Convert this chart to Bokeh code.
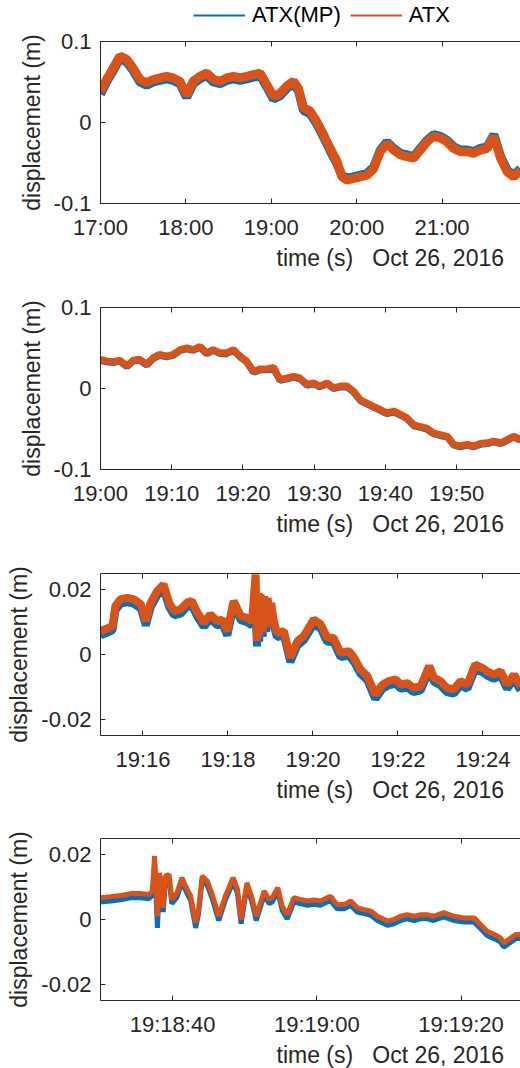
import numpy as np
import pandas as pd
from bokeh.plotting import figure
from bokeh.layouts import column
from bokeh.models import (FixedTicker, DatetimeTickFormatter, DatetimeAxis, Title,
                          Legend, LegendItem, Range1d)
from bokeh.embed import file_html
from bokeh.resources import INLINE

DATE = "2016-10-26"
DATE_TEXT = "Oct 26, 2016"
XLABEL = "time (s)"
YLABEL = "displacement (m)"
BLUE = "#0072BD"
ORANGE = "#D95319"
AX = "#262626"
FONT = "Liberation Sans"

# ---------------- panel 1 : minutes after 17:00 ----------------
p1_start = "17:00:00"
p1_min = [0, 4.2, 8.9, 13.6, 18.3, 23.0, 27.7, 32.4, 37.1, 41.8, 46.5, 51.1, 55.8, 60.5, 65.2,
          69.9, 74.6, 79.3, 84.0, 88.7, 93.4, 98.1, 102.8, 107.4, 112.1, 116.8, 121.5, 126.2,
          130.9, 135.6, 139.1, 142.6, 147.3, 152.0, 156.7, 161.4, 166.1, 169.6, 173.1, 177.8,
          182.5, 187.2, 191.9, 196.6, 201.3, 206.0, 210.7, 215.4, 220.1, 224.7, 229.4, 234.1,
          238.8, 243.5, 248.2, 252.9, 257.6, 262.3, 267.0, 271.7, 276.4, 281.1, 285.8, 290.4, 295.1]
p1_atx = [0.038, 0.053, 0.067, 0.082, 0.078, 0.067, 0.053, 0.049, 0.053, 0.055, 0.057, 0.055, 0.051,
          0.034, 0.051, 0.057, 0.061, 0.053, 0.051, 0.055, 0.057, 0.055, 0.057, 0.059, 0.061, 0.047,
          0.032, 0.036, 0.045, 0.051, 0.042, 0.018, 0.014, 0.001, -0.015, -0.032, -0.048, -0.067,
          -0.071, -0.069, -0.067, -0.065, -0.057, -0.036, -0.026, -0.034, -0.040, -0.042, -0.044,
          -0.034, -0.024, -0.017, -0.019, -0.024, -0.032, -0.036, -0.036, -0.038, -0.034, -0.032,
          -0.017, -0.044, -0.061, -0.067, -0.059]
p1_mp = [0.035, 0.050, 0.064, 0.079, 0.075, 0.064, 0.050, 0.046, 0.050, 0.052, 0.054, 0.052, 0.048,
         0.031, 0.048, 0.054, 0.058, 0.050, 0.048, 0.052, 0.054, 0.052, 0.054, 0.056, 0.058, 0.044,
         0.029, 0.033, 0.042, 0.048, 0.039, 0.015, 0.011, -0.002, -0.018, -0.035, -0.051, -0.065,
         -0.069, -0.067, -0.065, -0.063, -0.055, -0.034, -0.024, -0.032, -0.038, -0.040, -0.042,
         -0.032, -0.022, -0.015, -0.017, -0.022, -0.030, -0.034, -0.034, -0.036, -0.032, -0.030,
         -0.015, -0.042, -0.059, -0.065, -0.057]
p1_xticks = ["17:00", "18:00", "19:00", "20:00", "21:00"]
p1_yticks = [-0.1, 0, 0.1]
p1_ylabels = ["-0.1", "0", "0.1"]

# ---------------- panel 2 : minutes after 19:00 ----------------
p2_start = "19:00:00"
p2_min = [0, 0.8, 1.8, 2.7, 3.7, 4.6, 5.5, 6.5, 7.4, 8.3, 9.3, 10.2, 11.2, 12.1, 13.0, 14.0, 14.9,
          15.8, 16.8, 17.7, 18.7, 19.6, 20.5, 21.5, 22.4, 23.3, 24.3, 25.2, 26.2, 27.1, 28.0, 29.0,
          29.9, 30.8, 31.8, 32.7, 33.7, 34.6, 35.5, 36.5, 37.4, 38.3, 39.3, 40.2, 41.2, 42.1, 43.0,
          44.0, 44.9, 45.8, 46.8, 47.7, 48.7, 49.6, 50.5, 51.5, 52.4, 53.3, 54.3, 55.2, 56.2, 57.1,
          58.0, 59.0]
p2_atx = [0.036, 0.034, 0.033, 0.035, 0.028, 0.035, 0.036, 0.030, 0.038, 0.042, 0.040, 0.042, 0.048,
          0.050, 0.048, 0.052, 0.044, 0.048, 0.044, 0.044, 0.048, 0.040, 0.034, 0.021, 0.024, 0.024,
          0.026, 0.011, 0.013, 0.015, 0.013, 0.005, 0.007, 0.003, 0.007, 0.001, 0.003, 0.003, -0.003,
          -0.014, -0.018, -0.022, -0.026, -0.030, -0.028, -0.032, -0.036, -0.045, -0.047, -0.049,
          -0.055, -0.057, -0.059, -0.069, -0.071, -0.069, -0.071, -0.068, -0.067, -0.065, -0.067,
          -0.063, -0.059, -0.063]
p2_mp = [0.035, 0.033, 0.032, 0.034, 0.027, 0.034, 0.035, 0.029, 0.037, 0.041, 0.039, 0.041, 0.047,
         0.049, 0.047, 0.051, 0.043, 0.047, 0.043, 0.043, 0.047, 0.039, 0.033, 0.020, 0.023, 0.023,
         0.025, 0.010, 0.012, 0.014, 0.012, 0.004, 0.006, 0.002, 0.006, 0.000, 0.002, 0.002, -0.004,
         -0.015, -0.019, -0.023, -0.027, -0.031, -0.029, -0.033, -0.037, -0.046, -0.048, -0.050,
         -0.056, -0.058, -0.060, -0.070, -0.072, -0.070, -0.072, -0.069, -0.068, -0.066, -0.068,
         -0.064, -0.060, -0.064]
p2_xticks = ["19:00", "19:10", "19:20", "19:30", "19:40", "19:50"]
p2_yticks = [-0.1, 0, 0.1]
p2_ylabels = ["-0.1", "0", "0.1"]

# ---------------- panel 3 : seconds after 19:15:00 ----------------
p3_start = "19:15:00"
p3_sec = [0, 9, 17, 21, 28, 38, 47, 57, 64, 71, 80, 89, 97, 104, 113, 122, 129, 137, 146, 155, 165,
          172, 179, 188, 198, 207, 214, 219, 221, 223, 224, 226, 229, 231, 234, 236, 239, 241, 244,
          249, 259, 268, 278, 287, 297, 301, 311, 320, 329, 339, 351, 358, 367, 377, 388, 398, 407,
          417, 424, 433, 442, 452, 464, 471, 480, 489, 499, 508, 518, 529, 539, 546, 555, 565, 574,
          584, 593]
p3_atx = [0.0072, 0.0080, 0.0088, 0.0149, 0.0170, 0.0175, 0.0170, 0.0155, 0.0103, 0.0160, 0.0196,
          0.0216, 0.0160, 0.0134, 0.0139, 0.0160, 0.0165, 0.0129, 0.0098, 0.0124, 0.0103, 0.0108,
          0.0072, 0.0165, 0.0119, 0.0113, 0.0103, 0.0247, 0.0041, 0.0190, 0.0060,
          0.0185, 0.0070, 0.0180, 0.0085, 0.0175, 0.0095, 0.0160, 0.0110,
          0.0067, 0.0072, -0.0010, 0.0041, 0.0057, 0.0093, 0.0108, 0.0093, 0.0052,
          0.0052, 0.0005, 0.0010, -0.0010, -0.0046, -0.0067, -0.0124, -0.0093, -0.0082, -0.0077,
          -0.0093, -0.0088, -0.0103, -0.0098, -0.0036, -0.0072, -0.0082, -0.0103, -0.0108, -0.0082,
          -0.0093, -0.0031, -0.0041, -0.0052, -0.0062, -0.0052, -0.0093, -0.0062, -0.0098]
p3_mp = [0.0059, 0.0067, 0.0075, 0.0136, 0.0157, 0.0162, 0.0157, 0.0142, 0.0090, 0.0147, 0.0183,
         0.0203, 0.0147, 0.0121, 0.0126, 0.0147, 0.0152, 0.0116, 0.0085, 0.0111, 0.0090, 0.0095,
         0.0059, 0.0152, 0.0106, 0.0100, 0.0090, 0.0120, 0.0025, 0.0150, 0.0040,
         0.0150, 0.0055, 0.0150, 0.0070, 0.0155, 0.0082, 0.0145, 0.0097,
         0.0054, 0.0059, -0.0023, 0.0028, 0.0044, 0.0080, 0.0095, 0.0080, 0.0039,
         0.0039, -0.0008, -0.0003, -0.0023, -0.0059, -0.0080, -0.0137, -0.0106, -0.0095, -0.0090,
         -0.0106, -0.0101, -0.0116, -0.0111, -0.0049, -0.0085, -0.0095, -0.0116, -0.0121, -0.0095,
         -0.0106, -0.0044, -0.0054, -0.0065, -0.0075, -0.0065, -0.0106, -0.0075, -0.0111]
p3_xticks = ["19:16", "19:18", "19:20", "19:22", "19:24"]
p3_yticks = [-0.02, 0, 0.02]
p3_ylabels = ["-0.02", "0", "0.02"]

# ---------------- panel 4 : seconds after 19:18:30 ----------------
p4_start = "19:18:30"
p4_sec = [0, 1.4, 2.8, 4.2, 5.5, 6.7, 7.2, 7.5, 7.9, 8.2, 8.7, 9.0, 9.5, 9.9, 10.6, 11.3, 11.8, 12.5,
          13.2, 13.6, 14.1, 14.8, 15.5, 16.4, 17.3, 18.4, 19.0, 19.5, 20.3, 21.0, 21.6, 22.7, 23.4,
          23.8, 24.6, 25.2, 25.9, 26.8, 27.7, 28.7, 29.6, 30.5, 31.9, 32.8, 33.8, 34.7, 35.6, 36.5,
          37.5, 38.4, 39.8, 40.7, 41.6, 42.5, 43.5, 44.4, 45.3, 46.2, 47.6, 49.0, 50.4, 51.8, 52.7,
          53.6, 54.6, 55.5, 55.9, 56.6, 57.6, 58.3]
p4_atx = [0.0067, 0.0070, 0.0074, 0.0080, 0.0080, 0.0077, 0.0088, 0.0196, 0.0010, 0.0144, 0.0036,
          0.0134, 0.0139, 0.0062, 0.0082, 0.0129, 0.0103, 0.0072, -0.0010, 0.0031, 0.0134, 0.0119,
          0.0077, 0.0010, 0.0072, 0.0129, 0.0093, 0.0000, 0.0113, 0.0067, 0.0010, 0.0088, 0.0062,
          0.0067, 0.0098, 0.0041, 0.0015, 0.0067, 0.0062, 0.0057, 0.0060, 0.0057, 0.0072, 0.0046,
          0.0046, 0.0057, 0.0036, 0.0031, 0.0026, 0.0010, -0.0005, 0.0000, 0.0010, 0.0015, 0.0010,
          0.0015, 0.0015, 0.0010, 0.0021, 0.0010, 0.0005, 0.0005, -0.0015, -0.0036, -0.0046,
          -0.0057, -0.0072, -0.0062, -0.0046, -0.0046]
p4_mp = [0.0054, 0.0057, 0.0061, 0.0067, 0.0067, 0.0064, 0.0075, 0.0170, -0.0026, 0.0131, 0.0023,
         0.0121, 0.0126, 0.0049, 0.0069, 0.0116, 0.0090, 0.0059, -0.0026, 0.0018, 0.0121, 0.0106,
         0.0064, -0.0003, 0.0059, 0.0116, 0.0080, -0.0013, 0.0100, 0.0054, -0.0003, 0.0075, 0.0049,
         0.0054, 0.0085, 0.0028, 0.0002, 0.0054, 0.0049, 0.0044, 0.0047, 0.0044, 0.0059, 0.0033,
         0.0033, 0.0044, 0.0023, 0.0018, 0.0013, -0.0003, -0.0018, -0.0013, -0.0003, 0.0002,
         -0.0003, 0.0002, 0.0002, -0.0003, 0.0008, -0.0003, -0.0008, -0.0008, -0.0028, -0.0049,
         -0.0059, -0.0070, -0.0085, -0.0075, -0.0059, -0.0059]
p4_xticks = ["19:18:40", "19:19:00", "19:19:20"]
p4_yticks = [-0.02, 0, 0.02]
p4_ylabels = ["-0.02", "0", "0.02"]

series_names = ["ATX(MP)", "ATX"]


def ms(clock):
    return pd.Timestamp(DATE + " " + clock).value // 10**6


FRAME_W, FRAME_H = 420, 162


def panel(start, offsets, unit_ms, atx, mp, x_span, xticks, fmt, yrange, yticks, ylabels,
          top, bottom, lw):
    x0 = ms(start)
    x = x0 + np.array(offsets, dtype=float) * unit_ms
    x1 = x0 + x_span * unit_ms
    p = figure(frame_width=FRAME_W, frame_height=FRAME_H, x_axis_type="datetime",
               x_range=Range1d(x0, x1), y_range=Range1d(*yrange),
               output_backend="svg", toolbar_location=None,
               min_border_left=100, min_border_right=0,
               min_border_top=top, min_border_bottom=bottom)
    p.outline_line_color = None
    p.grid.visible = False
    p.background_fill_color = "white"
    p.border_fill_color = "white"

    p.line(x, mp, line_color=BLUE, line_width=lw)
    p.line(x, atx, line_color=ORANGE, line_width=lw)

    tick_ms = [ms(t if t.count(":") == 2 else t + ":00") for t in xticks]
    xt = FixedTicker(ticks=tick_ms)
    xf = DatetimeTickFormatter(microseconds=fmt, milliseconds=fmt, seconds=fmt, minsec=fmt,
                               minutes=fmt, hourmin=fmt, hours=fmt, days=fmt, months=fmt,
                               years=fmt)
    xa = p.xaxis[0]
    xa.ticker = xt
    xa.formatter = xf
    xa.major_label_overrides = {k: v for k, v in zip(tick_ms, xticks)}
    ya = p.yaxis[0]
    ya.ticker = FixedTicker(ticks=yticks)
    ya.major_label_overrides = {k: v for k, v in zip(yticks, ylabels)}
    ya.axis_label = YLABEL
    for a in (xa, ya):
        a.axis_line_color = AX
        a.axis_line_width = 1
        a.major_tick_line_color = AX
        a.major_tick_in = 5
        a.major_tick_out = 0
        a.minor_tick_line_color = None
        a.major_label_text_font = FONT
        a.major_label_text_font_size = "22px"
        a.major_label_text_color = AX
    xa.major_label_standoff = 11
    ya.major_label_standoff = 9
    ya.axis_label_text_font = FONT
    ya.axis_label_text_font_size = "23px"
    ya.axis_label_text_font_style = "normal"
    ya.axis_label_text_color = AX
    ya.axis_label_standoff = 6

    # top edge of the box: inward ticks, no labels
    top_axis = DatetimeAxis(ticker=xt, formatter=xf, major_label_text_color=None,
                            major_label_text_font_size="1px",
                            major_tick_in=5, major_tick_out=0, major_label_standoff=0,
                            minor_tick_line_color=None, axis_line_color=AX,
                            major_tick_line_color=AX)
    p.add_layout(top_axis, "above")

    # x label and the date, on one line below the tick labels
    p.add_layout(Title(text=XLABEL + "\u00a0\u00a0\u00a0" + DATE_TEXT, align="left", offset=176,
                       text_font=FONT, text_font_size="23px", text_font_style="normal",
                       text_color=AX, standoff=1), "below")
    return p


# legend strip above the first panel
leg_fig = figure(width=520, height=30, output_backend="svg", toolbar_location=None,
                 x_range=Range1d(0, 1), y_range=Range1d(0, 1),
                 min_border=0, min_border_left=0, min_border_right=0,
                 min_border_top=0, min_border_bottom=0)
leg_fig.axis.visible = False
leg_fig.grid.visible = False
leg_fig.outline_line_color = None
lb = leg_fig.line([np.nan], [np.nan], line_color=BLUE, line_width=2)
lo = leg_fig.line([np.nan], [np.nan], line_color=ORANGE, line_width=2)
leg = Legend(items=[LegendItem(label=series_names[0], renderers=[lb]),
                    LegendItem(label=series_names[1], renderers=[lo])],
             location=(93, 2), orientation="horizontal", glyph_width=52,
             glyph_height=20, label_standoff=7, spacing=9, padding=0, margin=0,
             border_line_color=None, background_fill_alpha=0,
             label_text_font=FONT, label_text_font_size="22px",
             label_text_color="#000000")
leg_fig.add_layout(leg)

f1 = panel(p1_start, p1_min, 60000, p1_atx, p1_mp, 295.1, p1_xticks, "%H:%M",
           (-0.1, 0.1), p1_yticks, p1_ylabels, 11, 68, 9)
f2 = panel(p2_start, p2_min, 60000, p2_atx, p2_mp, 58.97, p2_xticks, "%H:%M",
           (-0.1, 0.1), p2_yticks, p2_ylabels, 36, 68, 7)
f3 = panel(p3_start, p3_sec, 1000, p3_atx, p3_mp, 593.0, p3_xticks, "%H:%M",
           (-0.025, 0.025), p3_yticks, p3_ylabels, 36, 68, 8)
f4 = panel(p4_start, p4_sec, 1000, p4_atx, p4_mp, 58.25, p4_xticks, "%H:%M:%S",
           (-0.025, 0.025), p4_yticks, p4_ylabels, 35, 68, 5)

layout = column(leg_fig, f1, f2, f3, f4, spacing=0)
open("out.html", "w").write(file_html(layout, INLINE))
